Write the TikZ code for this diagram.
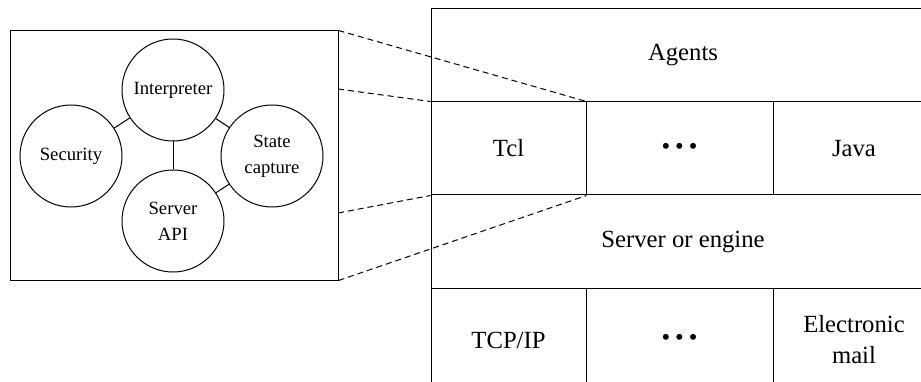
\documentclass[tikz,border=0pt]{standalone}
\usepackage{fontspec}
\setmainfont{Liberation Serif}
\newcommand{\bigtext}{\fontsize{24.7}{31}\selectfont}
\newcommand{\smalltext}{\fontsize{18.7}{26}\selectfont}

\begin{document}
\begin{tikzpicture}
[x=1pt,y=-1pt,
  cellDecorate/.style={shape=rectangle,draw,line width=1pt,inner sep=0pt,font=\bigtext,align=center},%
  circDecorate/.style={shape=circle,draw,line width=1pt,minimum size=102pt,inner sep=0pt,font=\smalltext,align=center},%
  lineDecorate/.style={-,line width=1pt},%
  dashDecorate/.style={-,line width=1pt,dash pattern=on 6pt off 4pt}]
\clip (0,0) rectangle (921,382);
%% left panel with the parts of the server
\node (panel) at (174,155.5) [cellDecorate,minimum width=328pt,minimum height=249pt] {};
\foreach \nodename/\x/\y/\txt in {int/173/90/Interpreter, sec/71/156/Security,
  st/272/156/{State\\capture}, api/173/221/{Server\\API}} {
  \node (\nodename) at (\x,\y) [circDecorate] {\txt};
}
%% layers on the right
\node (agents) at (683,55.5) [cellDecorate,minimum width=504pt,minimum height=93pt] {Agents};
\node (tcl) at (508.5,148.5) [cellDecorate,minimum width=155pt,minimum height=93pt] {Tcl};
\node (langdots) at (679.5,148.5) [cellDecorate,minimum width=187pt,minimum height=93pt] {•\hspace{5pt}•\hspace{5pt}•};
\node (java) at (854,148.5) [cellDecorate,minimum width=162pt,minimum height=93pt] {Java};
\node (server) at (683,241.5) [cellDecorate,minimum width=504pt,minimum height=93pt] {Server or engine};
\node (tcp) at (508.5,340) [cellDecorate,minimum width=155pt,minimum height=104pt] {TCP/IP};
\node (netdots) at (679.5,340) [cellDecorate,minimum width=187pt,minimum height=104pt] {•\hspace{5pt}•\hspace{5pt}•};
\node (mail) at (854,340) [cellDecorate,minimum width=162pt,minimum height=104pt] {Electronic\\mail};
%% edges between the parts
\path
\foreach \startnode/\endnode in {int/sec, int/st, int/api, api/st} {
  (\startnode) edge[lineDecorate] (\endnode)
};
%% zoom lines
\coordinate (zoomA) at (338,89);
\coordinate (zoomB) at (338,213);
\draw[dashDecorate] (panel.north east) -- (tcl.north east);
\draw[dashDecorate] (zoomA) -- (tcl.north west);
\draw[dashDecorate] (zoomB) -- (tcl.south west);
\draw[dashDecorate] (panel.south east) -- (tcl.south east);
\end{tikzpicture}
\end{document}
